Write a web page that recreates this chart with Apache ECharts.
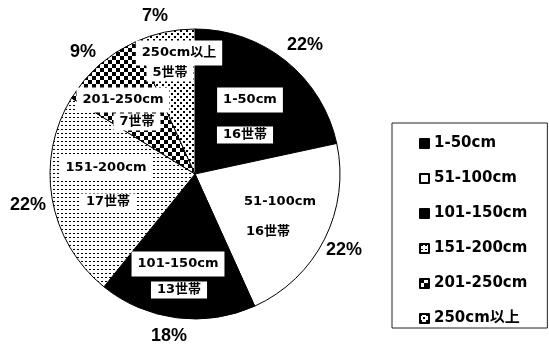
<!DOCTYPE html>
<html>
<head>
<meta charset="utf-8">
<script src="https://cdn.jsdelivr.net/npm/echarts@6/dist/echarts.min.js"></script>
<style>
html,body{margin:0;padding:0;background:#fff;}
#echarts_box{width:549px;height:345px;}
</style>
</head>
<body>
<div id="echarts_box"></div>
<script>
// 世帯数（区分別）
var rangeNames = ['1-50cm','51-100cm','101-150cm','151-200cm','201-250cm','250cm以上'];
var households = [16,16,13,17,7,5];
var pctLabels = ['22%','22%','18%','22%','9%','7%'];

// ラベル位置（文字の中心）
var namePos = [[250,100],[280,202],[178,264],[106,168],[123,100],[179,53]];
var countPos = [[245,135],[268,232],[179,290],[108,202],[137,122],[170,73]];
var pctPos = [[305,45],[344,250],[169,336],[28,205],[83,52],[155,16]];

var labelFont = '"DejaVu Sans","Noto Sans CJK JP",sans-serif';

function makePattern(w,h,dots,dw,dh){
	var c = document.createElement('canvas');
	c.width = w; c.height = h;
	var ctx = c.getContext('2d');
	ctx.fillStyle = '#fff';
	ctx.fillRect(0,0,w,h);
	ctx.fillStyle = '#000';
	for(var i=0;i<dots.length;i++){
		ctx.fillRect(dots[i][0],dots[i][1],dw,dh);
	}
	return {image:c,repeat:'repeat'};
}

var fills = [
	'#000',
	'#fff',
	'#000',
	makePattern(4,4,[[1,1]],2,1),
	makePattern(8,8,[[0,0],[4,4]],4,4),
	makePattern(6,6,[[0,0],[3,3]],2,2)
];

var pieData = [];
for(var i=0;i<rangeNames.length;i++){
	pieData.push({value:households[i],name:rangeNames[i],itemStyle:{color:fills[i]}});
}
var plainData = [];
for(var j=0;j<rangeNames.length;j++){
	plainData.push({value:households[j],name:rangeNames[j]});
}

function overlay(formatter,posList,rich){
	return {
		type:'pie',
		center:[195,174],
		radius:145,
		startAngle:90,
		silent:true,
		itemStyle:{color:'transparent',borderWidth:0},
		emphasis:{disabled:true},
		labelLine:{show:false},
		label:{
			show:true,
			position:'inside',
			formatter:formatter,
			rich:rich
		},
		labelLayout:function(p){
			return {x:posList[p.dataIndex][0],y:posList[p.dataIndex][1]};
		},
		data:plainData
	};
}

var myChart = echarts.init(document.getElementById('echarts_box'));
var option = {
	animation:false,
	backgroundColor:'#fff',
	legend:{
		orient:'vertical',
		left:392,
		top:123,
		padding:[13,20,2,27],
		borderColor:'#222',
		borderWidth:1,
		itemWidth:9,
		itemHeight:9,
		itemGap:20,
		icon:'rect',
		selectedMode:false,
		textStyle:{
			fontFamily:labelFont,
			fontWeight:'bold',
			fontSize:15,
			lineHeight:15,
			color:'#000'
		},
		data:rangeNames
	},
	series:[
		{
			type:'pie',
			center:[195,174],
			radius:145,
			startAngle:90,
			silent:true,
			itemStyle:{borderColor:'#000',borderWidth:1},
			emphasis:{disabled:true},
			label:{show:false},
			labelLine:{show:false},
			data:pieData
		},
		overlay(function(p){ return '{a|' + p.name + '}'; }, namePos, {
			a:{fontFamily:labelFont,fontWeight:'bold',fontSize:13,color:'#000',backgroundColor:'#fff',padding:[6,6]}
		}),
		overlay(function(p){ return '{b|' + households[p.dataIndex] + '世帯}'; }, countPos, {
			b:{fontFamily:labelFont,fontWeight:'bold',fontSize:13,color:'#000',backgroundColor:'#fff',padding:[2,6]}
		}),
		overlay(function(p){ return '{c|' + pctLabels[p.dataIndex] + '}'; }, pctPos, {
			c:{fontFamily:'"Liberation Sans",sans-serif',fontWeight:'bold',fontSize:18,color:'#000'}
		})
	]
};
myChart.setOption(option);
</script>
</body>
</html>
